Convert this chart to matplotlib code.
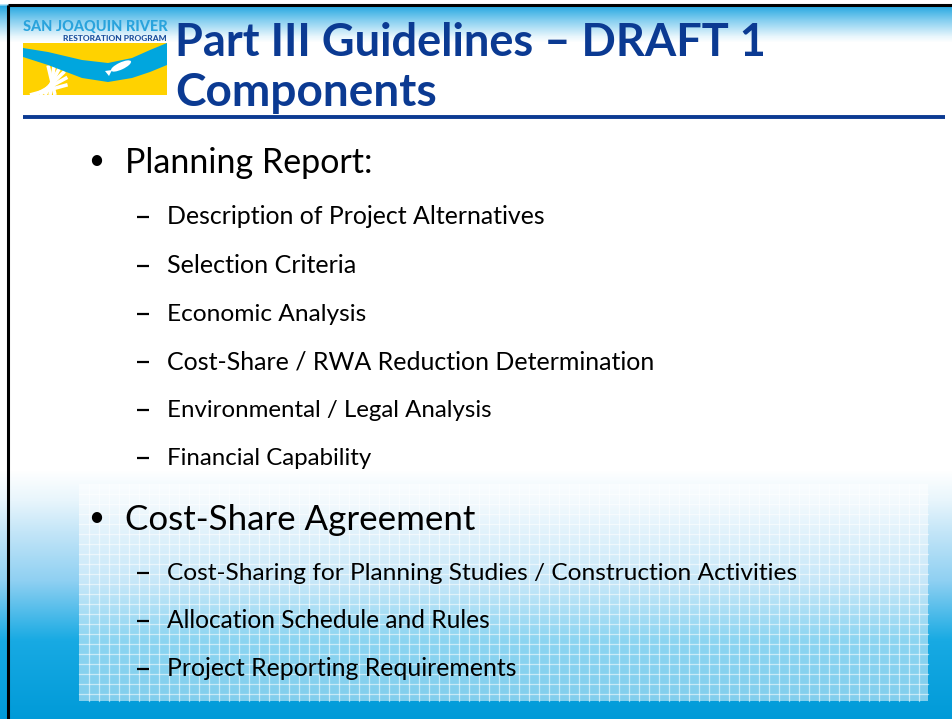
import matplotlib.pyplot as plt
import numpy as np
from matplotlib.colors import to_rgb
from matplotlib.patches import Rectangle, Polygon, Ellipse

# slide text
title_lines = ['Part III Guidelines \u2013 DRAFT 1', 'Components']
title_base = [56, 106]
title_width = [590, 262]

bullets = ['Planning Report:', 'Cost-Share Agreement']
bullet_base = [173, 530]
bullet_width = [247, 349]

subs = ['Description of Project Alternatives', 'Selection Criteria', 'Economic Analysis',
        'Cost-Share / RWA Reduction Determination', 'Environmental / Legal Analysis',
        'Financial Capability',
        'Cost-Sharing for Planning Studies / Construction Activities',
        'Allocation Schedule and Rules', 'Project Reporting Requirements']
sub_base = [224, 273, 321, 369, 417, 465, 580, 628, 676]
sub_width = [378, 190, 199, 489, 324, 204, 630, 323, 350]

W, H = 952, 719
navy = '#0b3a92'

fig = plt.figure(figsize=(W / 100, H / 100), dpi=100)
ax = fig.add_axes([0, 0, 1, 1])
ax.set_xlim(0, W)
ax.set_ylim(H, 0)
ax.axis('off')

# background: blue band at top, white middle, blue gradient at bottom
stops = [(0, 'white'), (3, 'white'), (6, '#29a9e1'), (20, '#86cff0'), (36, '#e8f6fc'),
         (42, 'white'), (470, 'white'), (500, '#e8f5fc'), (530, '#c5e6f8'),
         (580, '#8fd0f2'), (640, '#18aae3'), (719, '#009ad8')]
ys = np.arange(H)
cols = np.array([to_rgb(c) for _, c in stops])
grad = np.stack([np.interp(ys, [s for s, _ in stops], cols[:, k]) for k in range(3)], axis=-1)
ax.imshow(grad[:, None, :], extent=[0, W, H, 0], aspect='auto', zorder=0)

# frame lines
ax.plot([8, W], [5, 5], color='black', lw=2.2, zorder=5, solid_capstyle='butt')
ax.plot([8, 8], [5, H], color='black', lw=2.2, zorder=5, solid_capstyle='butt')

# grid panel behind second bullet
gx0, gx1, gy0, gy1 = 79, 928, 484, 701
ax.add_patch(Rectangle((gx0, gy0), gx1 - gx0, gy1 - gy0, facecolor='white', alpha=0.5,
                       edgecolor='none', zorder=1))
for gx in np.arange(gx0 + 10, gx1, 10):
    ax.plot([gx, gx], [gy0, gy1], color='white', lw=0.9, alpha=0.55, zorder=1)
for gy in np.arange(gy0 + 10, gy1, 10):
    ax.plot([gx0, gx1], [gy, gy], color='white', lw=0.9, alpha=0.55, zorder=1)

# logo
ax.add_patch(Rectangle((23, 43), 144, 52, facecolor='#ffd200', edgecolor='none', zorder=2))
for k in range(6):
    a = np.deg2rad(20 + k * 16)
    ax.plot([30 + k * 5, 30 + k * 5 + 40 * np.cos(a)], [95, 95 - 30 * np.sin(a)],
            color='white', lw=2.6, zorder=2, solid_capstyle='butt')
ax.add_patch(Rectangle((23, 43), 144, 20, facecolor='#ffd200', edgecolor='none', zorder=2))
rx = np.array([23, 48, 82, 108, 132, 150, 167])
rtop = np.array([48, 52, 60, 63, 58, 50, 43])
rbot = np.array([57, 65, 78, 82, 78, 72, 65])
ax.add_patch(Polygon(np.column_stack([np.r_[rx, rx[::-1]], np.r_[rtop, rbot[::-1]]]),
                     facecolor='#00a6de', edgecolor='none', zorder=3))
ax.add_patch(Ellipse((121, 66), 22, 7, angle=-25, facecolor='white', edgecolor='none', zorder=4))
ax.add_patch(Polygon([[112, 70], [105, 71], [109, 76]], facecolor='white', edgecolor='none',
                     zorder=4))

texts = []
t = ax.text(23, 31, 'SAN JOAQUIN RIVER', color='#2aa3dc', fontfamily='Lato',
            fontweight='black', fontsize=10, va='baseline', zorder=4)
texts.append((t, 144))
t = ax.text(63, 41, 'RESTORATION PROGRAM', color='#1b4f9c', fontfamily='Lato',
            fontweight='black', fontsize=5, va='baseline', zorder=4)
texts.append((t, 104))

# title
for line, yb, w in zip(title_lines, title_base, title_width):
    t = ax.text(175, yb, line, color=navy, fontfamily='Lato', fontweight='bold',
                fontsize=30, va='baseline', zorder=4)
    texts.append((t, w))
ax.plot([23, 945], [116.5, 116.5], color=navy, lw=2.8, zorder=4, solid_capstyle='butt')

# bullets
for txt, yb, w in zip(bullets, bullet_base, bullet_width):
    ax.text(96, yb - 12, '\u2022', color='black', fontfamily='Lato', fontsize=20,
            ha='center', va='center', zorder=4)
    t = ax.text(125, yb, txt, color='black', fontfamily='Lato', fontsize=26,
                va='baseline', zorder=4)
    texts.append((t, w))

for txt, yb, w in zip(subs, sub_base, sub_width):
    ax.plot([137, 149], [yb - 7, yb - 7], color='black', lw=1.6, zorder=4,
            solid_capstyle='butt')
    t = ax.text(167, yb, txt, color='black', fontfamily='Lato', fontsize=17,
                va='baseline', zorder=4)
    texts.append((t, w))

# scale each text so that it spans the width seen on the slide
renderer = fig.canvas.get_renderer()
for t, w in texts:
    bb = t.get_window_extent(renderer)
    t.set_fontsize(t.get_fontsize() * w / bb.width)

fig.savefig('out.png', dpi=100)
